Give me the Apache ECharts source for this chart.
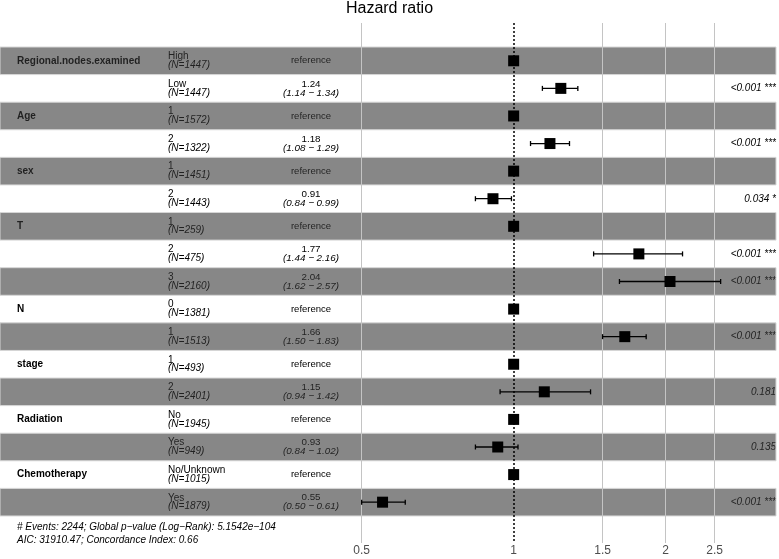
<!DOCTYPE html>
<html>
<head>
<meta charset="utf-8">
<script src="https://cdn.jsdelivr.net/npm/echarts@6/dist/echarts.min.js"></script>
<style>
  html, body, #main { margin: 0; width: 100%; height: 100%; background: #fff; }
</style>
</head>
<body>
<div id="main"></div>
<script>
// one entry per row of the forest plot
var variables = ['Regional.nodes.examined', '', 'Age', '', 'sex', '', 'T', '', '', 'N', '', 'stage', '', 'Radiation', '', 'Chemotherapy', ''];
var levels = ['High', 'Low', '1', '2', '1', '2', '1', '2', '3', '0', '1', '1', '2', 'No', 'Yes', 'No/Unknown', 'Yes'];
var counts = [1447, 1447, 1572, 1322, 1451, 1443, 259, 475, 2160, 1381, 1513, 493, 2401, 1945, 949, 1015, 1879];
var hr = [1, 1.24, 1, 1.18, 1, 0.91, 1, 1.77, 2.04, 1, 1.66, 1, 1.15, 1, 0.93, 1, 0.55];
var lower = [null, 1.14, null, 1.08, null, 0.84, null, 1.44, 1.62, null, 1.50, null, 0.94, null, 0.84, null, 0.50];
var upper = [null, 1.34, null, 1.29, null, 0.99, null, 2.16, 2.57, null, 1.83, null, 1.42, null, 1.02, null, 0.61];
var pvalues = ['', '<0.001 ***', '', '<0.001 ***', '', '0.034 *', '', '<0.001 ***', '<0.001 ***', '', '<0.001 ***', '', '0.181', '', '0.135', '', '<0.001 ***'];
var tickLabels = [0.5, 1, 1.5, 2, 2.5];
var gridValues = [0.5, 1.5, 2, 2.5];
var nEvents = 2244;
var globalP = '5.1542e\u2212104';
var aic = '31910.47';
var cIndex = '0.66';

var FONT = '"Liberation Sans", Arial, sans-serif';
var rows = levels.map(function (l, i) { return [1, i]; });

var chart = echarts.init(document.getElementById('main'));

chart.setOption({
  animation: false,
  backgroundColor: '#fff',
  title: [{
    text: 'Hazard ratio',
    left: 'center',
    top: 1,
    padding: 0,
    textStyle: { fontFamily: FONT, fontWeight: 'normal', fontSize: 16, color: '#000' }
  }, {
    text: '# Events: ' + nEvents + '; Global p\u2212value (Log\u2212Rank): ' + globalP +
          '\nAIC: ' + aic + '; Concordance Index: ' + cIndex,
    left: 17,
    top: 520,
    padding: 0,
    textStyle: { fontFamily: FONT, fontWeight: 'normal', fontStyle: 'italic', fontSize: 10, lineHeight: 13.5, color: '#000' }
  }],
  grid: { left: 0, right: 3, top: 23, bottom: 16, containLabel: false },
  xAxis: {
    type: 'log',
    logBase: 2,
    min: 0.0961,
    max: 3.308,
    axisLine: { show: false },
    axisTick: { show: false },
    splitLine: { show: false },
    axisLabel: {
      customValues: tickLabels,
      margin: 2,
      color: '#4d4d4d',
      fontFamily: FONT,
      fontSize: 12,
      formatter: function (v) { return String(v); }
    }
  },
  yAxis: {
    type: 'value',
    inverse: true,
    min: -1.37,
    max: 17.48,
    show: false
  },
  series: [{
    // table text, under the shading
    type: 'custom',
    z: 2,
    silent: true,
    data: rows,
    renderItem: function (params, api) {
      var i = api.value(1);
      var y = api.coord([1, i])[1];
      var kids = [];
      if (variables[i]) {
        kids.push({ type: 'text', style: { text: variables[i], x: 17, y: y, align: 'left', verticalAlign: 'middle',
          font: 'bold 10px ' + FONT, fill: '#000' } });
      }
      kids.push({ type: 'text', style: { text: levels[i], x: 168, y: y - 4.4, align: 'left', verticalAlign: 'middle',
        font: '10px ' + FONT, fill: '#000' } });
      kids.push({ type: 'text', style: { text: '(N=' + counts[i] + ')', x: 168, y: y + 4.4, align: 'left', verticalAlign: 'middle',
        font: 'italic 10px ' + FONT, fill: '#000' } });
      if (lower[i] == null) {
        kids.push({ type: 'text', style: { text: 'reference', x: 311, y: y, align: 'center', verticalAlign: 'middle',
          font: '9.5px ' + FONT, fill: '#000' } });
      } else {
        kids.push({ type: 'text', style: { text: hr[i].toFixed(2), x: 311, y: y - 4.4, align: 'center', verticalAlign: 'middle',
          font: '9.8px ' + FONT, fill: '#000' } });
        kids.push({ type: 'text', style: { text: '(' + lower[i].toFixed(2) + ' \u2212 ' + upper[i].toFixed(2) + ')', x: 311, y: y + 4.4,
          align: 'center', verticalAlign: 'middle', font: 'italic 9.8px ' + FONT, fill: '#000' } });
      }
      if (pvalues[i]) {
        kids.push({ type: 'text', style: { text: pvalues[i], x: 776, y: y, align: 'right', verticalAlign: 'middle',
          font: 'italic 10px ' + FONT, fill: '#000' } });
      }
      return { type: 'group', children: kids };
    },
    markLine: {
      silent: true,
      symbol: 'none',
      label: { show: false },
      lineStyle: { color: '#c4c4c4', width: 1, type: 'solid' },
      data: gridValues.map(function (v) { return { xAxis: v }; })
    }
  }, {
    // alternating shaded rows
    type: 'custom',
    z: 3,
    silent: true,
    data: rows.filter(function (r) { return r[1] % 2 === 0; }),
    renderItem: function (params, api) {
      var i = api.value(1);
      var y0 = api.coord([1, i - 0.5])[1];
      var y1 = api.coord([1, i + 0.5])[1];
      var cs = params.coordSys;
      return {
        type: 'rect',
        shape: { x: cs.x, y: Math.min(y0, y1), width: cs.width, height: Math.abs(y1 - y0) },
        style: { fill: 'rgba(55,55,55,0.6)', stroke: '#d6d6d6', lineWidth: 1 }
      };
    }
  }, {
    // hazard ratios with confidence intervals
    type: 'custom',
    z: 5,
    silent: true,
    data: rows,
    renderItem: function (params, api) {
      var i = api.value(1);
      var c = api.coord([hr[i], i]);
      var kids = [];
      if (lower[i] != null) {
        var a = api.coord([lower[i], i]);
        var b = api.coord([upper[i], i]);
        kids.push({ type: 'line', shape: { x1: a[0], y1: c[1], x2: b[0], y2: c[1] }, style: { stroke: '#000', lineWidth: 1.3 } });
        kids.push({ type: 'line', shape: { x1: a[0], y1: c[1] - 2.5, x2: a[0], y2: c[1] + 2.5 }, style: { stroke: '#000', lineWidth: 1.3 } });
        kids.push({ type: 'line', shape: { x1: b[0], y1: c[1] - 2.5, x2: b[0], y2: c[1] + 2.5 }, style: { stroke: '#000', lineWidth: 1.3 } });
      }
      kids.push({ type: 'rect', shape: { x: c[0] - 5.5, y: c[1] - 5.5, width: 11, height: 11 }, style: { fill: '#000' } });
      return { type: 'group', children: kids };
    },
    markLine: {
      silent: true,
      symbol: 'none',
      label: { show: false },
      lineStyle: { color: '#000', width: 1.5, type: [2, 2] },
      data: [{ xAxis: 1 }]
    }
  }]
});
</script>
</body>
</html>
